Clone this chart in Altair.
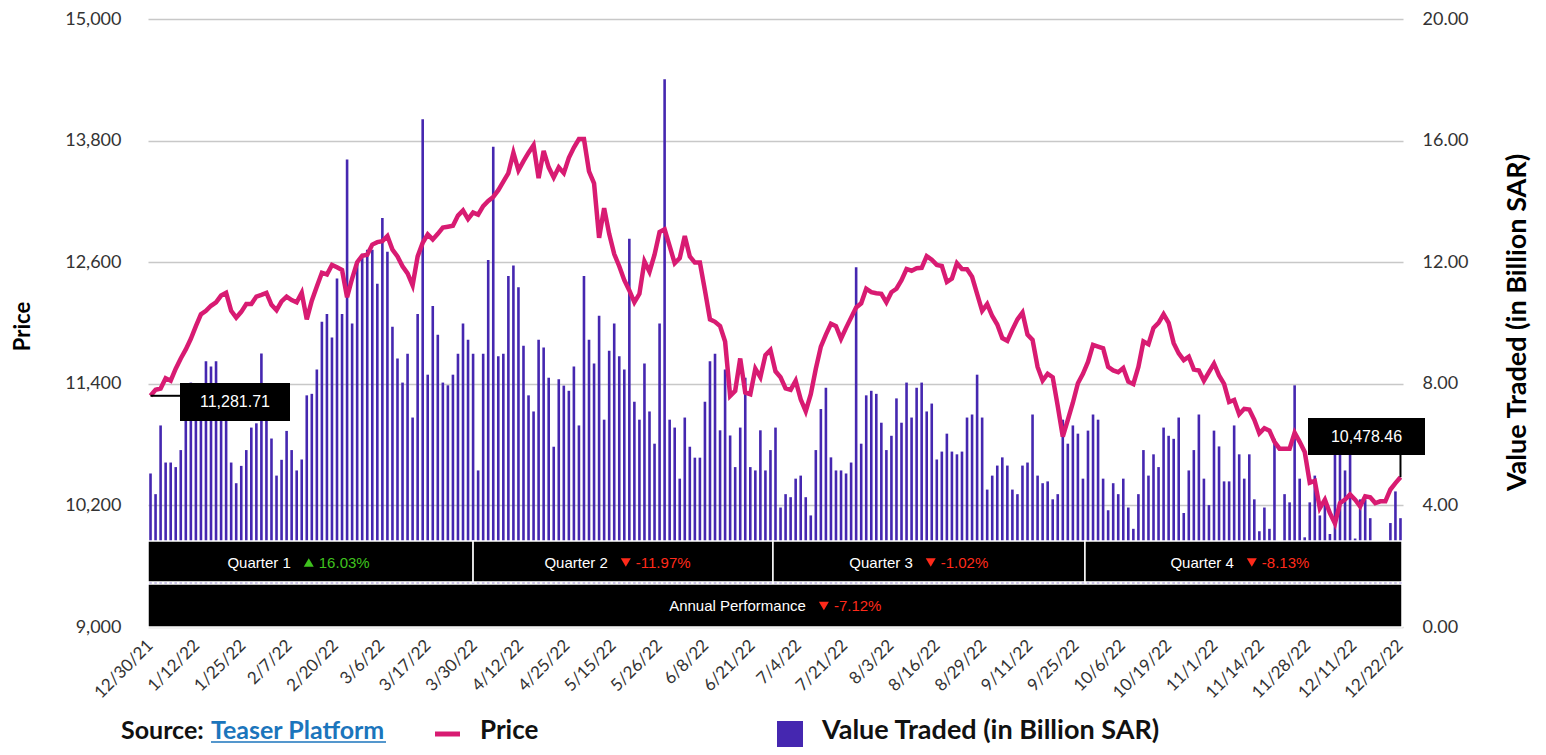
import altair as alt
import pandas as pd

# ---------------- data ----------------
tick_labels = ["12/30/21", "1/12/22", "1/25/22", "2/7/22", "2/20/22", "3/6/22", "3/17/22",
               "3/30/22", "4/12/22", "4/25/22", "5/15/22", "5/26/22", "6/8/22", "6/21/22",
               "7/4/22", "7/21/22", "8/3/22", "8/16/22", "8/29/22", "9/11/22", "9/25/22",
               "10/6/22", "10/19/22", "11/1/22", "11/14/22", "11/28/22", "12/11/22", "12/22/22"]

price = [
    11281.71, 11341, 11354, 11455, 11431, 11549, 11650, 11740, 11844, 11969,
    12086, 12120, 12170, 12204, 12271, 12298, 12120, 12053, 12110, 12187,
    12187, 12261, 12278, 12298, 12180, 12126, 12214, 12261, 12227, 12204,
    12298, 12036, 12220, 12360, 12496, 12479, 12573, 12550, 12523, 12254,
    12439, 12600, 12664, 12674, 12774, 12798, 12808, 12858, 12724, 12657,
    12560, 12489, 12372, 12657, 12791, 12875, 12825, 12880, 12942, 12950,
    12959, 13060, 13110, 13026, 13090, 13070, 13154, 13204, 13244, 13311,
    13395, 13479, 13681, 13506, 13597, 13681, 13755, 13429, 13698, 13536,
    13436, 13536, 13479, 13630, 13731, 13815, 13815, 13496, 13379, 12841,
    13134, 12880, 12680, 12560, 12422, 12321, 12204, 12288, 12607, 12506,
    12674, 12899, 12925, 12758, 12590, 12640, 12858, 12657, 12596, 12596,
    12321, 12036, 12012, 11969, 11818, 11280, 11330, 11650, 11313, 11297,
    11549, 11465, 11683, 11734, 11523, 11465, 11354, 11341, 11431, 11247,
    11129, 11297, 11549, 11767, 11885, 11992, 11969, 11844, 11952, 12053,
    12153, 12194, 12338, 12304, 12294, 12288, 12204, 12304, 12338, 12422,
    12533, 12516, 12540, 12545, 12660, 12624, 12573, 12563, 12405, 12439,
    12590, 12533, 12530, 12456, 12288, 12120, 12187, 12069, 11985, 11851,
    11824, 11935, 12036, 12103, 11885, 11834, 11566, 11431, 11499, 11465,
    11180, 10878, 11045, 11213, 11405, 11499, 11616, 11784, 11767, 11750,
    11566, 11532, 11515, 11556, 11421, 11398, 11566, 11818, 11791, 11952,
    12002, 12086, 12002, 11801, 11700, 11633, 11667, 11542, 11532, 11431,
    11515, 11599, 11482, 11400, 11220, 11240, 11100, 11153, 11146, 11045,
    10911, 10961, 10938, 10827, 10760, 10760, 10760, 10918, 10827, 10727,
    10424, 10441, 10173, 10257, 10123, 10022, 10223, 10257, 10307, 10257,
    10190, 10290, 10280, 10223, 10240, 10240, 10357, 10420, 10478.46,
]

value_traded = [
    5.05, 4.37, 6.63, 5.41, 5.41, 5.26, 5.82, 7.00, 8.04, 7.40,
    7.60, 8.74, 8.57, 8.74, 7.30, 7.00, 5.41, 4.73, 5.30, 5.82,
    6.56, 6.70, 9.00, 6.80, 6.20, 4.98, 5.50, 6.45, 5.82, 5.15,
    5.51, 7.62, 7.67, 8.47, 10.04, 10.30, 9.52, 11.46, 10.30, 15.38,
    9.98, 11.96, 12.28, 12.41, 12.41, 11.29, 13.45, 12.34, 9.88, 8.83,
    8.04, 8.99, 6.89, 10.30, 16.70, 8.30, 10.56, 9.61, 8.04, 7.95,
    8.30, 8.99, 9.98, 9.45, 8.99, 5.15, 8.99, 12.07, 15.80, 8.91,
    8.99, 11.55, 11.89, 11.18, 9.25, 7.62, 7.09, 9.45, 9.19, 8.20,
    5.93, 8.15, 7.94, 7.77, 8.57, 6.63, 11.55, 9.45, 8.67, 10.24,
    6.82, 9.09, 9.98, 8.91, 8.47, 12.77, 7.41, 6.82, 8.67, 7.09,
    6.03, 9.98, 18.02, 6.82, 6.56, 4.88, 6.89, 5.93, 5.57, 5.57,
    7.41, 8.74, 8.99, 6.47, 8.47, 6.30, 5.26, 6.56, 8.20, 5.26,
    5.15, 6.47, 5.15, 5.82, 6.56, 3.93, 4.37, 4.27, 4.88, 4.98,
    4.27, 3.67, 5.82, 7.17, 7.87, 5.58, 5.15, 5.15, 5.05, 5.41,
    11.83, 6.03, 7.62, 7.77, 7.67, 6.72, 5.82, 6.29, 7.52, 6.72,
    8.04, 6.89, 7.87, 8.04, 7.09, 7.35, 5.51, 5.77, 6.36, 5.77,
    5.68, 5.77, 6.89, 6.99, 8.30, 6.89, 4.52, 4.98, 5.31, 5.58,
    5.31, 4.52, 4.37, 5.31, 5.41, 6.99, 4.98, 4.73, 4.79, 4.20,
    4.37, 6.82, 6.03, 6.63, 6.36, 4.88, 6.46, 6.99, 6.82, 4.88,
    3.84, 4.73, 4.37, 4.88, 3.93, 3.23, 4.37, 5.82, 4.98, 5.68,
    5.26, 6.56, 6.29, 6.19, 6.89, 3.75, 5.15, 5.82, 6.99, 4.88,
    4.01, 6.46, 5.94, 4.79, 4.79, 6.63, 5.68, 4.88, 5.68, 4.20,
    3.15, 3.93, 3.23, 6.19, 2.30, 4.37, 4.10, 7.95, 4.88, 2.95,
    4.10, 4.98, 3.67, 4.20, 3.06, 6.20, 5.70, 5.15, 6.00, 2.91,
    4.20, 4.20, 3.58, 2.20, 2.00, 2.40, 3.42, 4.46, 3.58,
]

quarter_names = ["Quarter 1", "Quarter 2", "Quarter 3", "Quarter 4"]
quarter_changes = ["16.03%", "-11.97%", "-1.02%", "-8.13%"]
annual_name = "Annual Performance"
annual_change = "-7.12%"

# ---------------- layout / style ----------------
PINK = "#d81b72"
PURPLE = "#4527b0"
GREEN = "#3fc21e"
RED = "#ff2a1a"
FONT = "Lato"
BOX_FONT = "Liberation Sans"
W, H = 1255, 608

n = len(price)
df = pd.DataFrame({"i": list(range(n)), "price": price, "value": value_traded})
# date labels are spread evenly from the first to the last trading day
n_lab = len(tick_labels)
tdf = pd.DataFrame({"pos": [k * (n - 1) / (n_lab - 1) for k in range(n_lab)],
                    "label": tick_labels})

xscale = alt.Scale(domain=[-0.5, n - 0.5], nice=False, zero=False, padding=0)
pscale = alt.Scale(domain=[9000, 15000], nice=False, zero=False)
vscale = alt.Scale(domain=[0, 20], nice=False, zero=True)

left_axis = alt.Axis(orient="left", values=[9000, 10200, 11400, 12600, 13800, 15000],
                     format=",.0f", labelFont=FONT, labelFontSize=18, labelColor="#333333",
                     labelPadding=27, ticks=False, tickSize=0, domain=False,
                     grid=True, gridColor="#c8c8c8", gridWidth=1.5,
                     title="Price", titleFont=FONT, titleFontSize=22, titleFontWeight="bold",
                     titleColor="#000000", titleAngle=270, titleX=-126, titleY=307,
                     titleAlign="center", titleBaseline="middle")

right_axis = alt.Axis(orient="right", values=[0, 4, 8, 12, 16, 20], format=".2f",
                      labelFont=FONT, labelFontSize=18, labelColor="#333333",
                      labelPadding=19, ticks=False, tickSize=0, domain=False, grid=False,
                      title="Value Traded (in Billion SAR)", titleFont=FONT,
                      titleFontSize=27, titleFontWeight="bold", titleColor="#000000",
                      titleAngle=270, titleX=114, titleY=303,
                      titleAlign="center", titleBaseline="middle")

bars = alt.Chart(df).mark_bar(size=2.6, color=PURPLE).encode(
    x=alt.X("i:Q", scale=xscale, axis=None),
    y=alt.Y("value:Q", scale=vscale, axis=right_axis),
)

line = alt.Chart(df).mark_line(color=PINK, strokeWidth=4.5).encode(
    x=alt.X("i:Q", scale=xscale, axis=None),
    y=alt.Y("price:Q", scale=pscale, axis=left_axis),
)

date_labels = alt.Chart(tdf).mark_text(angle=315, align="right", baseline="middle",
                                       font=FONT, fontSize=17, color="#333333").encode(
    x=alt.X("pos:Q", scale=xscale, axis=None),
    y=alt.value(H + 16),
    text="label:N",
)

# ---------------- quarter / annual performance boxes ----------------
q_bounds = [-0.5, 64, 123.5, 185.4, 248.3]      # box edges (trading-day index)
q_marker = [31.4, 94.3, 154.8, 218.5]          # arrow positions
annual_marker = 133.6

def arrow_shape(chg):
    return "triangle-down" if chg.startswith("-") else "triangle-up"

def arrow_color(chg):
    return RED if chg.startswith("-") else GREEN

qdf = pd.DataFrame({
    "name": quarter_names,
    "chg": quarter_changes,
    "x0": q_bounds[:-1],
    "x1": q_bounds[1:],
    "m": q_marker,
    "shape": [arrow_shape(c) for c in quarter_changes],
    "col": [arrow_color(c) for c in quarter_changes],
})
adf = pd.DataFrame({
    "name": [annual_name], "chg": [annual_change],
    "x0": [q_bounds[0]], "x1": [q_bounds[-1]], "m": [annual_marker],
    "shape": [arrow_shape(annual_change)], "col": [arrow_color(annual_change)],
})

def perf_layers(data, y0, y1, yc):
    box = alt.Chart(data).mark_rect(color="black", stroke="white", strokeWidth=1.5).encode(
        x=alt.X("x0:Q", scale=xscale, axis=None), x2="x1:Q",
        y=alt.value(y0), y2=alt.value(y1))
    name = alt.Chart(data).mark_text(align="right", baseline="middle", dx=-18,
                                     font=BOX_FONT, fontSize=15, color="white").encode(
        x=alt.X("m:Q", scale=xscale, axis=None), y=alt.value(yc), text="name:N")
    arrow = alt.Chart(data).mark_point(filled=True, size=100, opacity=1).encode(
        x=alt.X("m:Q", scale=xscale, axis=None), y=alt.value(yc),
        shape=alt.Shape("shape:N", scale=None), color=alt.Color("col:N", scale=None))
    pct = alt.Chart(data).mark_text(align="left", baseline="middle", dx=10,
                                    font=BOX_FONT, fontSize=15).encode(
        x=alt.X("m:Q", scale=xscale, axis=None), y=alt.value(yc), text="chg:N",
        color=alt.Color("col:N", scale=None))
    return [box, name, arrow, pct]

quarter_layers = perf_layers(qdf, 522, 563, 543.5)
annual_layers = perf_layers(adf, 565, H, 587)

# ---------------- first / last value call-outs ----------------
one = pd.DataFrame({"k": [0]})
first_row = df.iloc[[0]]
last_row = df.iloc[[n - 1]]

conn1 = alt.Chart(first_row).mark_rule(color="black", strokeWidth=2).encode(
    x=alt.X("i:Q", scale=xscale, axis=None), x2=alt.value(32),
    y=alt.Y("price:Q", scale=pscale, axis=None))
box1 = alt.Chart(one).mark_rect(color="black").encode(
    x=alt.value(32), x2=alt.value(142), y=alt.value(364), y2=alt.value(402))
txt1 = alt.Chart(one).mark_text(text=f"{price[0]:,.2f}", font=BOX_FONT, fontSize=16,
                                color="white", align="center", baseline="middle").encode(
    x=alt.value(87), y=alt.value(383))

conn2 = alt.Chart(last_row).mark_rule(color="black", strokeWidth=2).encode(
    x=alt.X("i:Q", scale=xscale, axis=None),
    y=alt.Y("price:Q", scale=pscale, axis=None), y2=alt.value(436))
box2 = alt.Chart(one).mark_rect(color="black").encode(
    x=alt.value(1160), x2=alt.value(1277), y=alt.value(399), y2=alt.value(436))
txt2 = alt.Chart(one).mark_text(text=f"{price[-1]:,.2f}", font=BOX_FONT, fontSize=16,
                                color="white", align="center", baseline="middle").encode(
    x=alt.value(1218.5), y=alt.value(417.5))

# ---------------- bottom legend ----------------
LEG_Y = 720  # text baseline
src = alt.Chart(one).mark_text(text="Source:", font=FONT, fontSize=25, fontWeight="bold",
                               color="#111111", align="left", baseline="alphabetic").encode(
    x=alt.value(-27), y=alt.value(LEG_Y))
teaser = alt.Chart(one).mark_text(text="Teaser Platform", font=FONT, fontSize=25,
                                  fontWeight="bold", color="#1b75bc", align="left",
                                  baseline="alphabetic").encode(x=alt.value(63), y=alt.value(LEG_Y))
underline = alt.Chart(one).mark_rule(color="#1b75bc", strokeWidth=1.5).encode(
    x=alt.value(63), x2=alt.value(238), y=alt.value(LEG_Y + 3))
price_key = alt.Chart(one).mark_rule(color=PINK, strokeWidth=5).encode(
    x=alt.value(287), x2=alt.value(312), y=alt.value(LEG_Y - 5))
price_txt = alt.Chart(one).mark_text(text="Price", font=FONT, fontSize=26, fontWeight="bold",
                                     color="#111111", align="left", baseline="alphabetic").encode(
    x=alt.value(332), y=alt.value(LEG_Y))
vt_key = alt.Chart(one).mark_rect(color=PURPLE).encode(
    x=alt.value(629), x2=alt.value(655), y=alt.value(LEG_Y - 18), y2=alt.value(LEG_Y + 9))
vt_txt = alt.Chart(one).mark_text(text="Value Traded (in Billion SAR)", font=FONT, fontSize=27,
                                  fontWeight="bold", color="#111111", align="left",
                                  baseline="alphabetic").encode(x=alt.value(674), y=alt.value(LEG_Y))

chart = alt.layer(
    bars, line, date_labels, *quarter_layers, *annual_layers,
    conn1, box1, txt1, conn2, box2, txt2,
    src, teaser, underline, price_key, price_txt, vt_key, vt_txt,
).resolve_scale(y="independent").properties(
    width=W, height=H,
    autosize=alt.AutoSizeParams(type="none"),
    padding={"left": 140, "top": 11, "right": 135, "bottom": 120},
    background="white",
).configure_view(stroke=None)

chart.save("out.html", embed_options={"renderer": "svg", "actions": False})
